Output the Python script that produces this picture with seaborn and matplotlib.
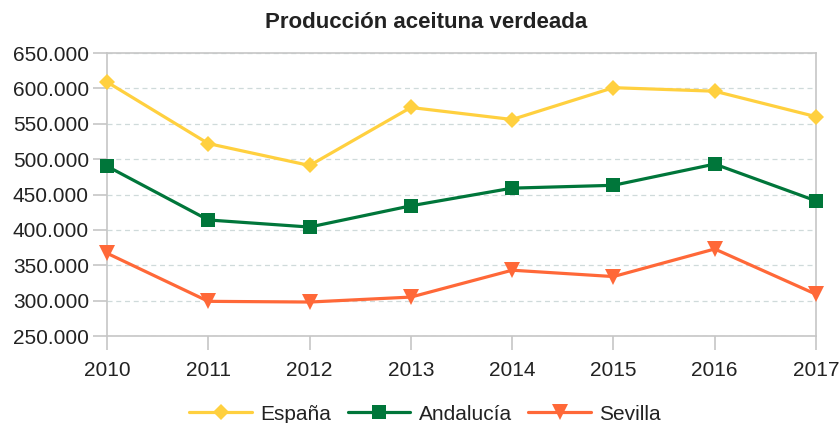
import matplotlib
matplotlib.use("Agg")
import matplotlib.pyplot as plt
import seaborn as sns
import pandas as pd
from matplotlib.ticker import FuncFormatter, MultipleLocator

years = [2010, 2011, 2012, 2013, 2014, 2015, 2016, 2017]
espana = [609000, 522000, 491000, 573000, 556000, 601000, 596000, 560000]
andalucia = [490000, 414000, 404000, 434000, 459000, 463000, 493000, 441000]
sevilla = [367000, 299000, 298000, 305000, 343000, 334000, 373000, 309000]
series_names = ["España", "Andalucía", "Sevilla"]
colors = ["#FFD03F", "#00763A", "#FF6838"]
title = "Producción aceituna verdeada"

df = pd.DataFrame({
    "year": years * 3,
    "value": espana + andalucia + sevilla,
    "serie": [n for n in series_names for _ in years],
})

sns.set_theme(style="white")
plt.rcParams["font.family"] = ["Liberation Sans", "DejaVu Sans"]

fig = plt.figure(figsize=(8.39, 4.23), dpi=100)
ax = fig.add_axes([107/839, 1-336/423, (816-107)/839, (336-53)/423])

sns.lineplot(data=df, x="year", y="value", hue="serie", style="serie",
             hue_order=series_names, style_order=series_names,
             palette=dict(zip(series_names, colors)),
             markers={"España": "D", "Andalucía": "s", "Sevilla": "v"},
             dashes=False, linewidth=2.3, markersize=9, markeredgewidth=0,
             ax=ax, legend=False)

for line, ms in zip(ax.get_lines(), [8, 10, 11]):
    line.set_markersize(ms)
    line.set_clip_on(False)
    line.set_zorder(5)

ax.set_xlim(2010, 2017)
ax.set_ylim(250000, 650000)
ax.xaxis.set_major_locator(MultipleLocator(1))
ax.yaxis.set_major_locator(MultipleLocator(50000))
ax.yaxis.set_major_formatter(FuncFormatter(lambda v, p: f"{int(round(v)):,}".replace(",", ".")))
ax.set_xlabel("")
ax.set_ylabel("")

ax.grid(axis="y", color="#cfdada", linestyle=(0, (4, 3)), linewidth=0.9)
ax.grid(axis="x", visible=False)
for s in ax.spines.values():
    s.set_color("#c6c6c6")
    s.set_linewidth(1.2)
ax.tick_params(axis="both", which="major", length=10, width=1.2, color="#c6c6c6",
               labelsize=15, labelcolor="#222222", direction="out",
               left=True, bottom=True)
ax.tick_params(axis="x", pad=8)
ax.tick_params(axis="y", pad=3)

fig.suptitle(title, x=426/839, y=1-23/423, va="center", fontsize=16,
             fontweight="bold", color="#222222")

handles = [plt.Line2D([], [], color=c, marker=m, linewidth=2.3, markersize=ms,
                      markeredgewidth=0)
           for c, m, ms in zip(colors, ["D", "s", "v"], [8, 10, 11])]
fig.legend(handles, series_names, loc="center", bbox_to_anchor=(425/839, 1-414/423),
           ncol=3, frameon=False, fontsize=15, handlelength=3.0,
           handletextpad=0.4, columnspacing=0.8, labelcolor="#222222")

fig.savefig("out.png", dpi=100)
